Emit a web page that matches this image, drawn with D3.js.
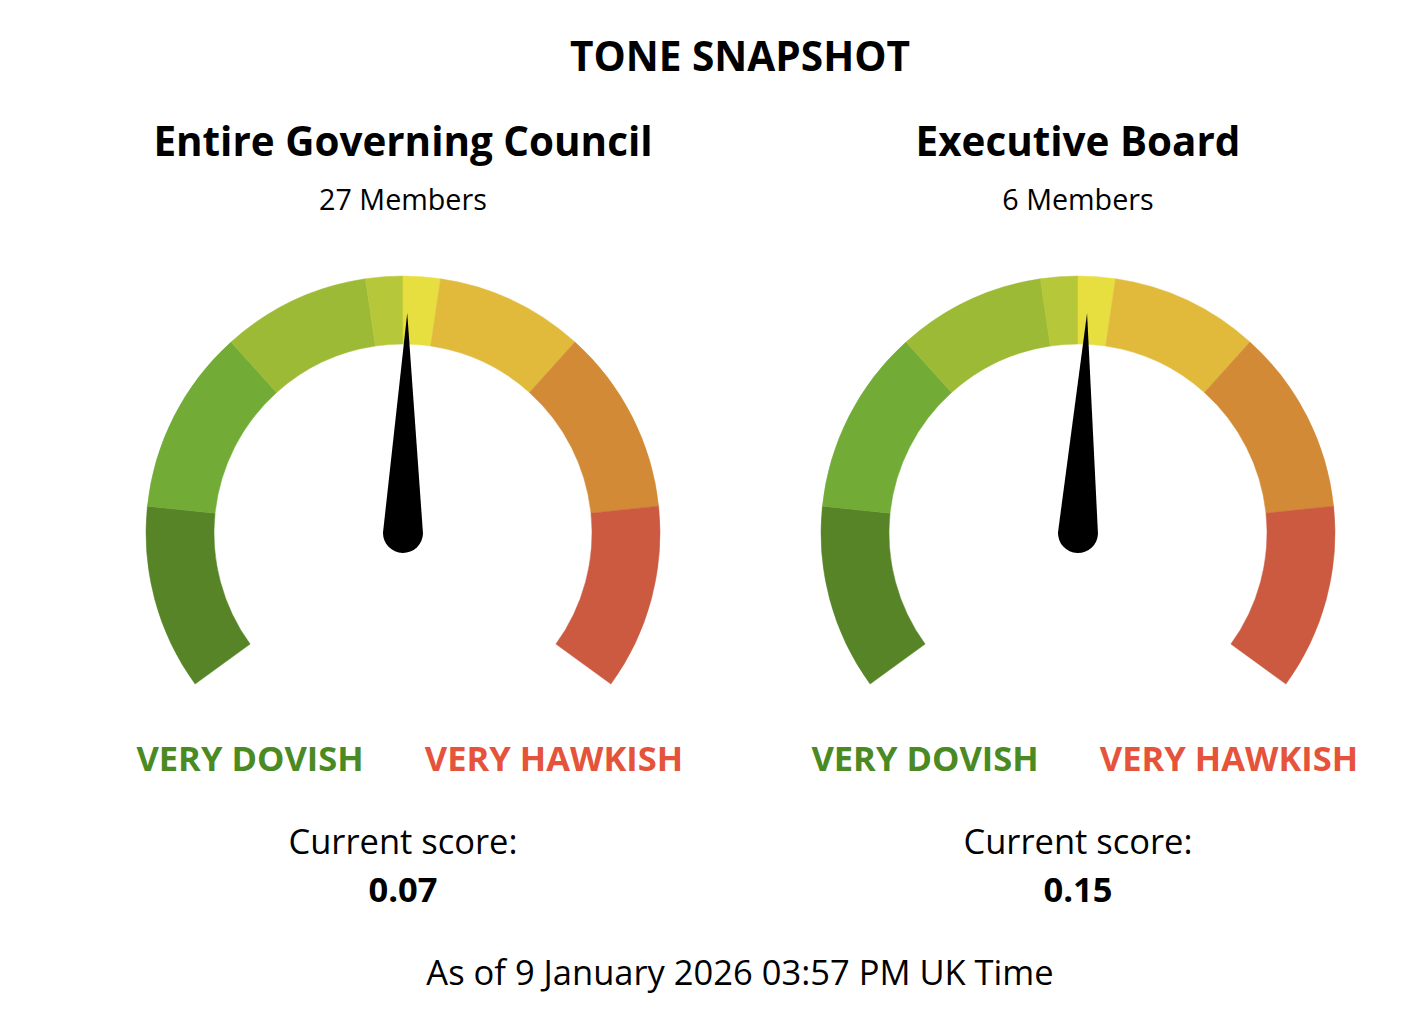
<!DOCTYPE html>
<html>
<head>
<meta charset="utf-8">
<script src="https://cdn.jsdelivr.net/npm/d3@7"></script>
<style>
  html, body { margin: 0; padding: 0; background: #fff; }
  svg { display: block; font-family: "Open Sans", sans-serif; }
</style>
</head>
<body>
<svg id="chart" width="1427" height="1032"></svg>
<script>
// ---- data ----
const chartTitle = "TONE SNAPSHOT";
const groupNames = ["Entire Governing Council", "Executive Board"];
const memberCounts = [27, 6];
const scores = [0.07, 0.15];
const bandBreaks = [-1.5, -1, -0.5, -0.1, 0, 0.1, 0.5, 1, 1.5];
const bandColors = ["#568426", "#72ab36", "#9cba35", "#b6c73a", "#e7de3f", "#e1ba3c", "#d38a36", "#cb5a41"];
const endLabels = ["VERY DOVISH", "VERY HAWKISH"];
const endLabelColors = ["#4b8a23", "#e5533b"];
const needleDomain = [-8, 8];
const footerText = "As of 9 January 2026 03:57 PM UK Time";

// ---- layout ----
const svg = d3.select("#chart");
const centersX = [403, 1078];
const centerY = 533;
const outerR = 257, innerR = 189;
const maxAngle = 126;

const bandScale = d3.scaleLinear().domain([bandBreaks[0], bandBreaks[bandBreaks.length - 1]]).range([-maxAngle, maxAngle]);
const needleScale = d3.scaleLinear().domain(needleDomain).range([-maxAngle, maxAngle]);
const rad = d => d * Math.PI / 180;
const arc = d3.arc().innerRadius(innerR).outerRadius(outerR);

svg.append("text")
  .attr("x", 740).attr("y", 71)
  .attr("text-anchor", "middle")
  .attr("font-weight", 700).attr("font-size", 40.6)
  .attr("fill", "#000")
  .text(chartTitle);

const bands = d3.range(bandColors.length).map(i => ({
  start: bandBreaks[i], end: bandBreaks[i + 1], color: bandColors[i]
}));

groupNames.forEach((name, gi) => {
  const cx = centersX[gi];
  const g = svg.append("g");

  g.append("text")
    .attr("x", cx).attr("y", 156)
    .attr("text-anchor", "middle")
    .attr("font-weight", 700).attr("font-size", 40.4)
    .text(name);

  g.append("text")
    .attr("x", cx).attr("y", 210)
    .attr("text-anchor", "middle")
    .attr("font-size", 28.7)
    .text(memberCounts[gi] + " Members");

  const gauge = g.append("g").attr("transform", `translate(${cx},${centerY})`);
  gauge.selectAll("path.band")
    .data(bands)
    .join("path")
    .attr("class", "band")
    .attr("d", d => arc({ startAngle: rad(bandScale(d.start)), endAngle: rad(bandScale(d.end)) }))
    .attr("fill", d => d.color)
    .attr("stroke", d => d.color)
    .attr("stroke-width", 0.5);

  // needle
  const baseR = 20, len = 220;
  const needlePath = `M${-baseR},0 L0,${-len} L${baseR},0 A${baseR},${baseR} 0 0,1 ${-baseR},0 Z`;
  gauge.append("path")
    .attr("d", needlePath)
    .attr("fill", "#000")
    .attr("transform", `rotate(${needleScale(scores[gi])})`);

  // end labels
  g.append("text")
    .attr("x", cx - 153).attr("y", 771)
    .attr("text-anchor", "middle")
    .attr("font-weight", 700).attr("font-size", 34.5)
    .attr("fill", endLabelColors[0])
    .text(endLabels[0]);
  g.append("text")
    .attr("x", cx + 151).attr("y", 771)
    .attr("text-anchor", "middle")
    .attr("font-weight", 700).attr("font-size", 34.5)
    .attr("fill", endLabelColors[1])
    .text(endLabels[1]);

  g.append("text")
    .attr("x", cx).attr("y", 854)
    .attr("text-anchor", "middle")
    .attr("font-size", 34.5)
    .text("Current score:");
  g.append("text")
    .attr("x", cx).attr("y", 902)
    .attr("text-anchor", "middle")
    .attr("font-weight", 700).attr("font-size", 34.5)
    .text(d3.format(".2f")(scores[gi]));
});

svg.append("text")
  .attr("x", 740).attr("y", 985)
  .attr("text-anchor", "middle")
  .attr("font-size", 34.5)
  .text(footerText);
</script>
</body>
</html>
